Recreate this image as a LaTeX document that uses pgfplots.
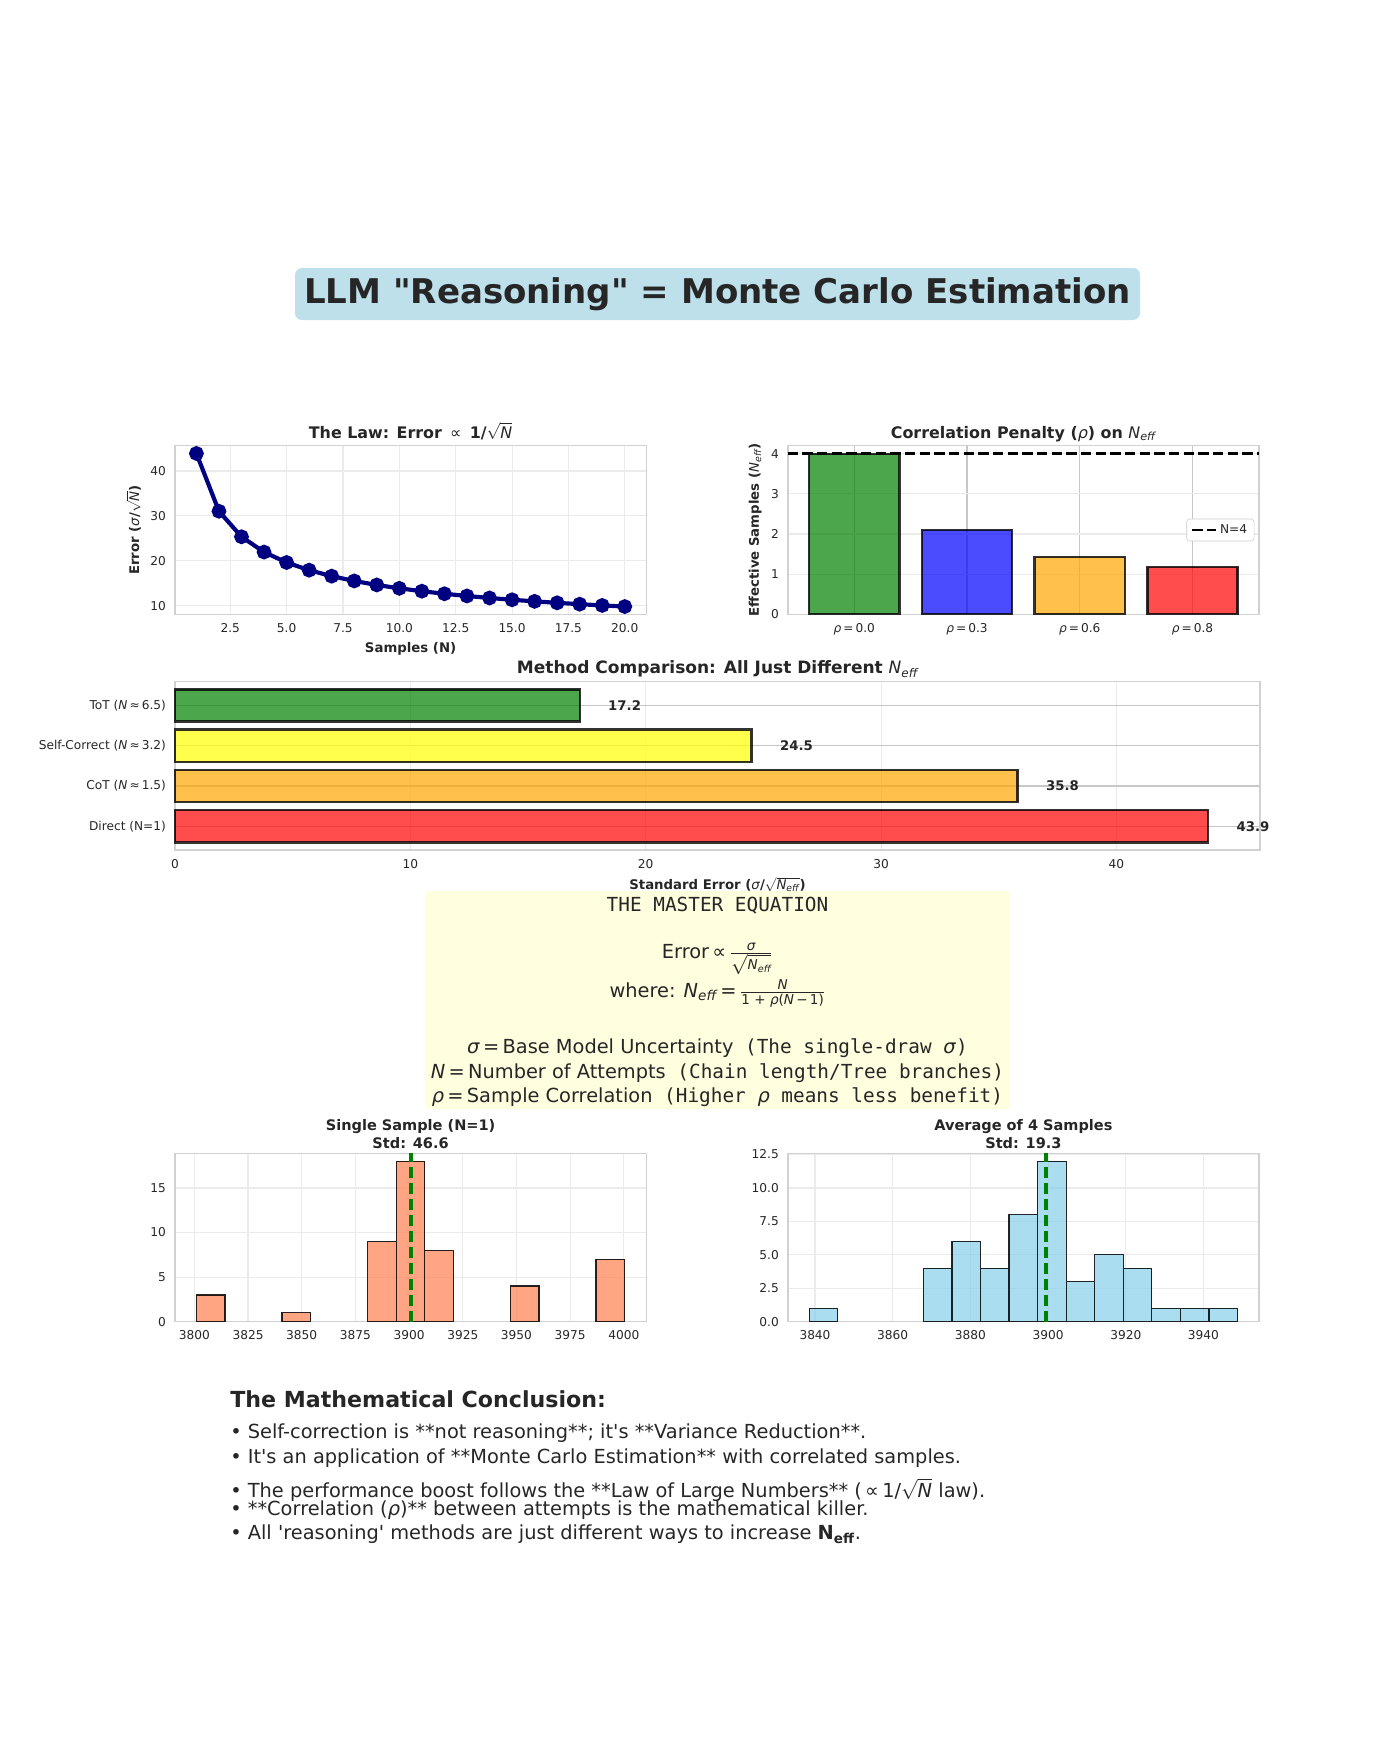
\documentclass[border=0pt]{standalone}
\usepackage{fontspec}
\usepackage{amsmath}
\usepackage{pgfplots}
\pgfplotsset{compat=1.18}
\setmainfont{DejaVu Sans}[Ligatures=TeXOff]
\setmonofont{DejaVu Sans Mono}

\definecolor{navyc}{RGB}{0,0,128}
\definecolor{mgreen}{RGB}{0,128,0}
\definecolor{mblue}{RGB}{0,0,255}
\definecolor{morange}{RGB}{255,165,0}
\definecolor{mred}{RGB}{255,0,0}
\definecolor{myellow}{RGB}{255,255,0}
\definecolor{coral}{RGB}{255,127,80}
\definecolor{skyblue}{RGB}{135,206,235}
\definecolor{lightblue}{RGB}{173,216,230}
\definecolor{lyellow}{RGB}{255,254,222}
\definecolor{txt}{RGB}{38,38,38}

% italic, normal weight (matplotlib mathtext look) in text / in math
\newcommand{\mi}[1]{\textnormal{\itshape #1}}
\newcommand{\mt}[1]{\text{\normalfont\itshape #1}}
\newcommand{\Neff}{$\mt{N}_{\mt{eff}}$}

\pgfplotsset{
  sbase/.style={
    scale only axis, anchor=north west,
    axis line style={draw=black!18, line width=1pt},
    grid=major, major grid style={draw=black!8, line width=0.8pt},
    tick style={draw=none},
    ticklabel style={font=\fontsize{8.8}{10}\selectfont, text=txt},
    xticklabel style={yshift=-3pt},
    yticklabel style={xshift=-3pt},
    /pgf/number format/assume math mode=true,
    /pgf/number format/1000 sep={},
    label style={font=\bfseries\fontsize{9.6}{11}\selectfont, text=txt},
    title style={font=\bfseries\fontsize{11.5}{14}\selectfont, text=txt,
      at={(0.5,1)}, anchor=base, yshift=-0.4pt},
  },
  htitle/.style={title style={font=\bfseries\fontsize{10.5}{12.5}\selectfont,
      align=center, anchor=south, yshift=-5.6pt}},
  mbar/.style={fill=#1, fill opacity=0.7, draw=black, draw opacity=0.8, line width=1.8pt},
  hbin/.style={fill=#1, fill opacity=0.7, draw=black, draw opacity=0.85, line width=0.9pt},
}

\begin{document}
\begin{tikzpicture}
\useasboundingbox (0,0) rectangle (14in,-17.5in);

% main title
\node[fill=lightblue, fill opacity=0.8, text opacity=1, rounded corners=5pt,
      minimum width=8.45in, minimum height=0.52in, text=txt,
      font=\bfseries\fontsize{24.6}{28}\selectfont] at (7.175in,-2.94in)
      {LLM "Reasoning" = Monte Carlo Estimation};

% ---- The law
\begin{axis}[sbase, at={(1.75in,-4.458in)}, width=4.712in, height=1.684in,
  xmin=0.05, xmax=20.95, ymin=8.12, ymax=45.6,
  xtick={2.5,5,7.5,10,12.5,15,17.5,20},
  x tick label style={/pgf/number format/.cd, fixed, fixed zerofill, precision=1},
  ytick={10,20,30,40},
  title={The Law: Error \,\textnormal{∝}\, 1/$\sqrt{\mt{N}}$},
  xlabel={Samples (N)},
  ylabel={Error (\mi{σ}/$\sqrt{\mt{N}}$)}]
\addplot[color=navyc, line width=3pt, mark=*, mark size=3.8pt] coordinates {
 (1,43.90) (2,31.04) (3,25.35) (4,21.95) (5,19.63) (6,17.92) (7,16.59)
 (8,15.52) (9,14.63) (10,13.88) (11,13.24) (12,12.67) (13,12.18) (14,11.73)
 (15,11.33) (16,10.98) (17,10.65) (18,10.35) (19,10.07) (20,9.82)};
\end{axis}

% ---- Correlation penalty
\begin{axis}[sbase, at={(7.878in,-4.458in)}, width=4.712in, height=1.684in,
  xmin=-0.59, xmax=3.59, ymin=0, ymax=4.2,
  xtick={0,1,2,3}, ytick={0,1,2,3,4},
  xticklabels={\mi{ρ}\,=\,0.0, \mi{ρ}\,=\,0.3, \mi{ρ}\,=\,0.6, \mi{ρ}\,=\,0.8},
  x grid style={draw=black!22, line width=0.8pt},
  title={Correlation Penalty (\mi{ρ}) on \Neff},
  ylabel={Effective Samples (\Neff)},
  legend style={at={(0.99,0.5)}, anchor=east, draw=black!20, rounded corners=2pt,
    font=\fontsize{8.8}{10}\selectfont, text=txt}]
\addplot[ybar, bar width=0.8, bar shift=0pt, mbar=mgreen, forget plot] coordinates {(0,4.0)};
\addplot[ybar, bar width=0.8, bar shift=0pt, mbar=mblue, forget plot] coordinates {(1,2.105)};
\addplot[ybar, bar width=0.8, bar shift=0pt, mbar=morange, forget plot] coordinates {(2,1.429)};
\addplot[ybar, bar width=0.8, bar shift=0pt, mbar=mred, forget plot] coordinates {(3,1.176)};
\addplot[black, line width=2pt, dash pattern=on 7.4pt off 3.2pt] coordinates {(-0.59,4) (3.59,4)};
\addlegendentry{N=4}
\end{axis}

% ---- Method comparison
\begin{axis}[sbase, at={(1.75in,-6.816in)}, width=10.85in, height=1.684in,
  xmin=0, xmax=46.1, ymin=-0.59, ymax=3.59, clip=false,
  xtick={0,10,20,30,40}, ytick={0,1,2,3},
  yticklabels={Direct (N=1), CoT (\mi{N}\,≈\,1.5), Self-Correct (\mi{N}\,≈\,3.2), ToT (\mi{N}\,≈\,6.5)},
  y grid style={draw=black!22, line width=0.8pt},
  title style={font=\bfseries\fontsize{12.3}{14}\selectfont},
  title={Method Comparison: All Just Different \Neff},
  xlabel={Standard Error (\mi{σ}/$\sqrt{\mt{N}_{\mt{eff}}}$)}]
\addplot[xbar, bar width=0.8, bar shift=0pt, mbar=mred] coordinates {(43.9,0)};
\addplot[xbar, bar width=0.8, bar shift=0pt, mbar=morange] coordinates {(35.8,1)};
\addplot[xbar, bar width=0.8, bar shift=0pt, mbar=myellow] coordinates {(24.5,2)};
\addplot[xbar, bar width=0.8, bar shift=0pt, mbar=mgreen] coordinates {(17.2,3)};
\begin{scope}[every node/.style={anchor=west, font=\bfseries\fontsize{9.6}{11}\selectfont, text=txt}]
\node at (axis cs:44.9,0) {43.9};
\node at (axis cs:36.8,1) {35.8};
\node at (axis cs:25.5,2) {24.5};
\node at (axis cs:18.2,3) {17.2};
\end{scope}
\end{axis}

% ---- master equation box
\fill[lyellow] (4.25in,-8.91in) rectangle (10.10in,-11.09in);
\begin{scope}[every node/.style={anchor=center, text=txt, font=\fontsize{14}{17}\selectfont, inner sep=0pt}]
\node at (7.175in,-9.06in) {\ttfamily THE MASTER EQUATION};
\node at (7.175in,-9.59in) {Error\,∝\,$\frac{\mt{σ}}{\sqrt{\mt{N}_{\mt{eff}}}}$};
\node at (7.175in,-9.935in) {where: \Neff\,=\,$\frac{\mt{N}}{\text{\normalfont 1 + \itshape ρ\upshape(\itshape N\upshape \,−\,1)}}$};
\node at (7.175in,-10.485in) {\mi{σ}\,=\,Base Model Uncertainty\texttt{ (The single-draw }\mi{σ}\texttt{)}};
\node at (7.175in,-10.735in) {\mi{N}\,=\,Number of Attempts\texttt{ (Chain length/Tree branches)}};
\node at (7.175in,-10.975in) {\mi{ρ}\,=\,Sample Correlation\texttt{ (Higher }\mi{ρ}\texttt{ means less benefit)}};
\end{scope}

% ---- histogram single sample
\begin{axis}[sbase, htitle, at={(1.75in,-11.532in)}, width=4.712in, height=1.684in,
  xmin=3791, xmax=4010.4, ymin=0, ymax=18.9,
  xtick={3800,3825,3850,3875,3900,3925,3950,3975,4000}, ytick={0,5,10,15},
  title={Single Sample (N=1)\\Std: 46.6}]
\addplot[ybar, bar width=13.29, bar shift=0pt, hbin=coral] coordinates {
 (3807.65,3) (3847.52,1) (3887.39,9) (3900.68,18) (3913.97,8) (3953.84,4) (3993.71,7)};
\addplot[mgreen, line width=3pt, dash pattern=on 8pt off 3.5pt] coordinates {(3901,0) (3901,18.9)};
\end{axis}

% ---- histogram average of 4
\begin{axis}[sbase, htitle, at={(7.878in,-11.532in)}, width=4.712in, height=1.684in,
  xmin=3833, xmax=3954.3, ymin=0, ymax=12.6,
  xtick={3840,3860,3880,3900,3920,3940}, ytick={0,2.5,5,7.5,10,12.5},
  y tick label style={/pgf/number format/.cd, fixed, fixed zerofill, precision=1},
  title={Average of 4 Samples\\Std: 19.3}]
\addplot[ybar, bar width=7.35, bar shift=0pt, hbin=skyblue] coordinates {
 (3842.175,1) (3871.575,4) (3878.925,6) (3886.275,4) (3893.625,8) (3900.975,12)
 (3908.325,3) (3915.675,5) (3923.025,4) (3930.375,1) (3937.725,1) (3945.075,1)};
\addplot[mgreen, line width=3pt, dash pattern=on 8pt off 3.5pt] coordinates {(3899.4,0) (3899.4,12.6)};
\end{axis}

% ---- conclusion
\begin{scope}[every node/.style={anchor=base west, text=txt, inner sep=0pt}]
\node[font=\bfseries\fontsize{16}{19}\selectfont] at (2.30in,-14.07in) {The Mathematical Conclusion:};
\begin{scope}[font=\fontsize{14}{17}\selectfont]
\node at (2.30in,-14.38in) {• Self-correction is **not reasoning**; it's **Variance Reduction**.};
\node at (2.30in,-14.637in) {• It's an application of **Monte Carlo Estimation** with correlated samples.};
\node at (2.30in,-14.972in) {• The performance boost follows the **Law of Large Numbers** (\,∝\,1/$\sqrt{\mt{N}}$ law).};
\node at (2.30in,-15.151in) {• **Correlation (\mi{ρ})** between attempts is the mathematical killer.};
\node at (2.30in,-15.397in) {• All 'reasoning' methods are just different ways to increase $\text{\bfseries N}_{\text{\bfseries eff}}$.};
\end{scope}
\end{scope}
\end{tikzpicture}
\end{document}
